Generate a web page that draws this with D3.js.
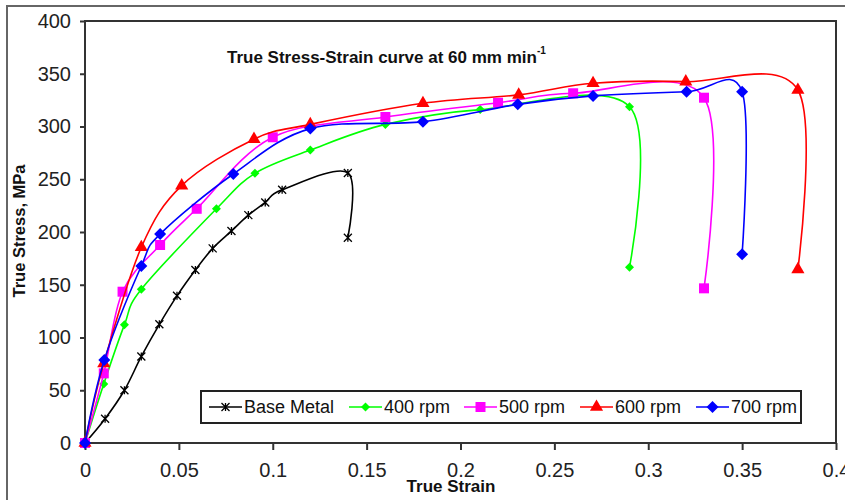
<!DOCTYPE html>
<html>
<head>
<meta charset="utf-8">
<script src="https://cdn.jsdelivr.net/npm/d3@7"></script>
<style>
  body { margin: 0; background: #fff; }
  svg { display: block; }
</style>
</head>
<body>
<svg id="chart"></svg>
<script>
// values
const seriesNames = ["Base Metal", "400 rpm", "500 rpm", "600 rpm", "700 rpm"];

const baseStrain = [0, 0.0107, 0.021, 0.03, 0.0396, 0.049, 0.0588, 0.068, 0.078, 0.087, 0.096, 0.105, 0.14, 0.14];
const baseStress = [0, 23, 50, 82, 112.5, 139.5, 164, 184.5, 201, 216, 228, 240, 256, 194.5];

const rpm400Strain = [0, 0.01, 0.021, 0.03, 0.07, 0.0905, 0.12, 0.16, 0.2105, 0.29, 0.29];
const rpm400Stress = [0, 56, 112, 145.7, 222, 255.6, 277.7, 302, 316, 318.8, 166.5];

const rpm500Strain = [0, 0.01, 0.02, 0.04, 0.0595, 0.1, 0.16, 0.22, 0.26, 0.3297, 0.3297];
const rpm500Stress = [0, 66, 143.4, 187.7, 222, 289.8, 309, 322.5, 331.5, 327.3, 146.6];

const rpm600Strain = [0, 0.01, 0.03, 0.0515, 0.09, 0.12, 0.18, 0.231, 0.2706, 0.32, 0.3797, 0.3797];
const rpm600Stress = [0, 75.5, 185.5, 244, 288, 302, 322, 330, 341, 342.5, 334.6, 164.6];

const rpm700Strain = [0, 0.0103, 0.03, 0.04, 0.079, 0.12, 0.18, 0.2305, 0.2706, 0.3204, 0.35, 0.35];
const rpm700Stress = [0, 78.7, 167.8, 198, 255, 298, 304.6, 321, 329, 333, 333, 179];

const xTicks = [0, 0.05, 0.1, 0.15, 0.2, 0.25, 0.3, 0.35, 0.4];
const yTicks = [0, 50, 100, 150, 200, 250, 300, 350, 400];

const width = 845, height = 500;
const plot = {left: 85, right: 836, top: 21, bottom: 443};

const svg = d3.select("#chart")
    .attr("width", width)
    .attr("height", height)
    .style("font-family", "Arial, 'Liberation Sans', sans-serif");

const x = d3.scaleLinear().domain([0, 0.4]).range([plot.left, plot.right]);
const y = d3.scaleLinear().domain([0, 400]).range([plot.bottom, plot.top]);

// outer frame of the picture
svg.append("rect")
    .attr("x", 7).attr("y", 6)
    .attr("width", width + 20).attr("height", height + 20)
    .attr("fill", "none")
    .attr("stroke", "#666")
    .attr("stroke-width", 2);

// plot frame
svg.append("rect")
    .attr("x", plot.left).attr("y", plot.top)
    .attr("width", plot.right - plot.left)
    .attr("height", plot.bottom - plot.top)
    .attr("fill", "none")
    .attr("stroke", "#333")
    .attr("stroke-width", 2);

const tickFont = "'Liberation Sans Narrow', 'Arial Narrow', Arial, sans-serif";

const yAxis = svg.append("g")
    .attr("transform", `translate(${plot.left},0)`)
    .call(d3.axisLeft(y).tickValues(yTicks).tickSize(5).tickPadding(9).tickFormat(d => String(d)));
const xAxis = svg.append("g")
    .attr("transform", `translate(0,${plot.bottom})`)
    .call(d3.axisBottom(x).tickValues(xTicks).tickSize(7).tickPadding(13).tickFormat(d => String(d)));

[xAxis, yAxis].forEach(g => {
    g.select(".domain").remove();
    g.selectAll(".tick line").attr("stroke", "#333").attr("stroke-width", 2);
    g.selectAll(".tick text")
        .attr("fill", "#222")
        .style("font-family", tickFont)
        .style("font-size", "20px");
});

// titles
svg.append("text")
    .attr("x", 227).attr("y", 63)
    .style("font-size", "17px").style("font-weight", "bold")
    .attr("fill", "#111")
    .text("True Stress-Strain curve at 60 mm min")
  .append("tspan")
    .attr("dy", -9)
    .style("font-size", "10px")
    .text("-1");

svg.append("text")
    .attr("x", 451).attr("y", 492)
    .attr("text-anchor", "middle")
    .style("font-size", "17px").style("font-weight", "bold")
    .attr("fill", "#111")
    .text("True Strain");

svg.append("text")
    .attr("transform", "translate(25,231) rotate(-90)")
    .attr("text-anchor", "middle")
    .style("font-size", "16.5px").style("font-weight", "bold")
    .attr("fill", "#111")
    .text("True Stress, MPa");

// series
const series = [
    {name: seriesNames[0], xs: baseStrain, ys: baseStress, color: "#000000", marker: "star"},
    {name: seriesNames[1], xs: rpm400Strain, ys: rpm400Stress, color: "#00ff00", marker: "smallDiamond"},
    {name: seriesNames[2], xs: rpm500Strain, ys: rpm500Stress, color: "#ff00ff", marker: "square"},
    {name: seriesNames[3], xs: rpm600Strain, ys: rpm600Stress, color: "#ff0000", marker: "triangle"},
    {name: seriesNames[4], xs: rpm700Strain, ys: rpm700Stress, color: "#0000ff", marker: "diamond"}
];

const line = d3.line()
    .x(d => x(d[0]))
    .y(d => y(d[1]))
    .curve(d3.curveCatmullRom.alpha(0));

function drawMarker(g, type, color) {
    if (type === "star") {
        g.append("path")
            .attr("d", "M-4,-4L4,4M-4,4L4,-4M0,-4L0,4")
            .attr("stroke", color).attr("stroke-width", 1.3).attr("fill", "none");
        return;
    }
    if (type === "smallDiamond" || type === "diamond") {
        const r = type === "diamond" ? 6 : 4.5;
        g.append("path")
            .attr("d", `M0,${-r}L${r},0L0,${r}L${-r},0Z`)
            .attr("fill", color);
        return;
    }
    const sym = {
        square: [d3.symbolSquare, 100],
        triangle: [d3.symbolTriangle, 75]
    }[type];
    g.append("path")
        .attr("d", d3.symbol().type(sym[0]).size(sym[1])())
        .attr("fill", color);
}

series.forEach(s => {
    const pts = s.xs.map((v, i) => [v, s.ys[i]]);
    svg.append("path")
        .datum(pts)
        .attr("d", line)
        .attr("fill", "none")
        .attr("stroke", s.color)
        .attr("stroke-width", 1.6);
    svg.append("g")
        .selectAll("g")
        .data(pts)
        .enter().append("g")
        .attr("transform", d => `translate(${x(d[0])},${y(d[1])})`)
        .each(function() { drawMarker(d3.select(this), s.marker, s.color); });
});

// legend
const legend = svg.append("g");
legend.append("rect")
    .attr("x", 201).attr("y", 391)
    .attr("width", 600).attr("height", 32)
    .attr("fill", "#fff")
    .attr("stroke", "#222")
    .attr("stroke-width", 2);

const legendX = [209, 349, 464, 580, 696];
series.forEach((s, i) => {
    const g = legend.append("g").attr("transform", `translate(${legendX[i]},407)`);
    g.append("line")
        .attr("x1", 0).attr("x2", 33)
        .attr("stroke", s.color).attr("stroke-width", 1.6);
    drawMarker(g.append("g").attr("transform", "translate(16.5,0)"), s.marker, s.color);
    g.append("text")
        .attr("x", 35).attr("dy", "0.35em")
        .style("font-family", tickFont)
        .style("font-size", "18px")
        .attr("fill", "#111")
        .text(s.name);
});
</script>
</body>
</html>
